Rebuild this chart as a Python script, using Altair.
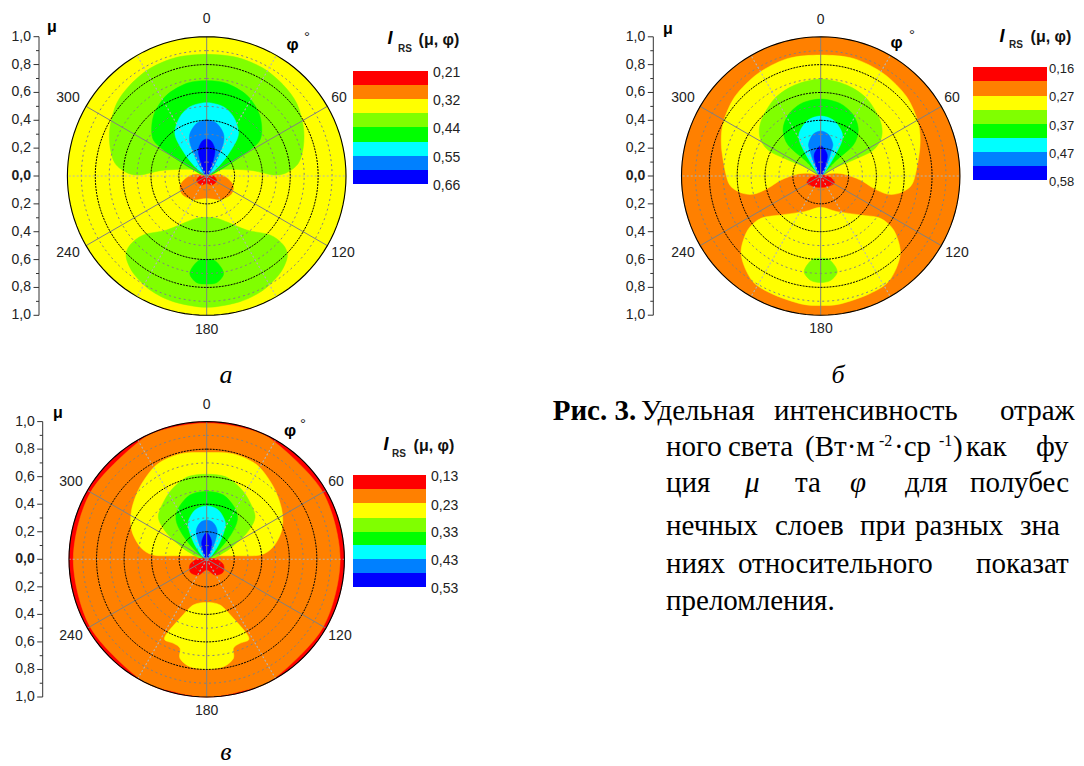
import math
import altair as alt
import pandas as pd

# Colour levels, from the lowest contour to the highest
RED, ORANGE, YELLOW, LIME, GREEN, CYAN, AZURE, BLUE = (
    "#ff0000", "#ff8000", "#ffff00", "#80ff00", "#00ff00", "#00ffff", "#0080ff", "#0000ff")
LEVEL_COLORS = [RED, ORANGE, YELLOW, LIME, GREEN, CYAN, AZURE, BLUE]

# Contours: half outlines (right half, mirrored about phi = 0/180), read as
# [dx, dy] offsets with 418 read units = mu 1.0
READ_UNITS = 418.0

a_lime = [[0,365],[90,356],[170,323],[230,273],[270,218],[290,148],[290,88],[275,38],[240,10],[200,3],[140,16],[80,20],[30,18],[0,0]]
a_green = [[0,286],[60,278],[120,243],[155,193],[165,148],[160,108],[130,78],[80,43],[40,18],[0,0]]
a_cyan = [[0,220],[50,208],[80,178],[95,138],[90,108],[60,58],[30,23],[0,0]]
a_azure = [[0,168],[30,158],[50,128],[50,98],[35,58],[15,18],[0,0]]
a_blue = [[0,111],[15,103],[25,78],[20,48],[10,18],[0,0]]
a_orange = [[0,0],[30,5],[55,-2],[75,-20],[80,-38],[70,-58],[40,-70],[0,-66]]
a_red = [[0,-2],[20,0],[30,-15],[15,-27],[0,-22]]
a_low_lime = [[0,-124],[40,-130],[120,-162],[190,-177],[230,-207],[242,-242],[220,-292],[170,-342],[100,-377],[0,-394]]
a_low_green = [[0,-250],[25,-254],[45,-277],[50,-297],[30,-320],[0,-324]]

b_yellow = [[0,363],[98,353],[188,308],[258,238],[293,158],[298,88],[284,3],[269,-32],[234,-52],[199,-54],[159,-37],[119,-12],[69,6],[34,8],[0,3]]
b_lime = [[0,291],[78,273],[138,233],[178,168],[183,118],[158,78],[98,48],[38,23],[0,0]]
b_green = [[0,231],[58,218],[98,183],[113,138],[98,93],[48,48],[13,13],[0,0]]
b_cyan = [[0,180],[38,168],[63,133],[63,103],[38,53],[13,13],[0,0]]
b_azure = [[0,135],[23,125],[36,98],[33,78],[13,18],[0,0]]
b_blue = [[0,91],[13,78],[20,58],[10,18],[0,0]]
b_red = [[0,3],[20,0],[34,-8],[41,-22],[20,-32],[0,-34]]
b_low_yellow = [[0,-94],[49,-107],[119,-117],[179,-127],[219,-162],[239,-222],[229,-272],[199,-322],[139,-357],[59,-384],[0,-389]]
b_low_lime = [[0,-247],[24,-250],[44,-272],[49,-292],[29,-314],[0,-320]]

c_orange = [[0,413],[107,399],[206,357],[353,203],[405,0],[354,-205],[208,-360],[107,-400],[0,-418]]
c_yellow = [[0,324],[81,320],[152,287],[202,221],[228,150],[228,89],[202,38],[162,13],[81,11],[0,11]]
c_lime = [[0,258],[61,249],[111,206],[142,150],[145,119],[121,79],[71,33],[20,3],[0,0]]
c_green = [[0,206],[51,195],[86,155],[93,119],[76,79],[41,33],[0,0]]
c_cyan = [[0,162],[35,150],[56,114],[51,79],[30,33],[0,0]]
c_azure = [[0,119],[20,111],[32,84],[20,38],[5,3],[0,0]]
c_blue = [[0,81],[12,64],[15,44],[5,8],[0,0]]
c_red = [[0,2],[30,0],[51,-17],[49,-40],[25,-48],[0,-32]]
c_low_yellow = [[0,-131],[41,-139],[81,-179],[121,-225],[127,-245],[101,-255],[81,-270],[81,-301],[51,-326],[0,-334]]

PANELS = [
    dict(cx=206.7, cy=176.0, R=139.3, axis_x=39.0, bg=YELLOW, layers=[
        (a_lime, LIME), (a_green, GREEN), (a_cyan, CYAN), (a_azure, AZURE), (a_blue, BLUE),
        (a_orange, ORANGE), (a_red, RED), (a_low_lime, LIME), (a_low_green, GREEN)]),
    dict(cx=820.7, cy=176.0, R=139.2, axis_x=653.3, bg=ORANGE, layers=[
        (b_yellow, YELLOW), (b_lime, LIME), (b_green, GREEN), (b_cyan, CYAN), (b_azure, AZURE),
        (b_blue, BLUE), (b_red, RED), (b_low_yellow, YELLOW), (b_low_lime, LIME)]),
    dict(cx=206.7, cy=559.3, R=137.7, axis_x=42.7, bg=RED, layers=[
        (c_orange, ORANGE), (c_yellow, YELLOW), (c_lime, LIME), (c_green, GREEN), (c_cyan, CYAN),
        (c_azure, AZURE), (c_blue, BLUE), (c_red, RED), (c_low_yellow, YELLOW)]),
]

mu_tick_labels = ["1,0", "0,8", "0,6", "0,4", "0,2", "0,0", "0,2", "0,4", "0,6", "0,8", "1,0"]

phi_labels = ["0", "60", "120", "180", "240", "300"]
phi_label_pos = [
    [[206.7, 19], [339, 98], [343, 253], [206.7, 330], [68, 253], [68, 98]],
    [[820.7, 20], [952, 98], [957, 253], [821, 329], [683, 253], [683, 98]],
    [[206.7, 405], [336, 482], [340, 636], [206.7, 711], [71, 636], [71, 482]],
]

legend_labels = [
    ["0,21", "0,32", "0,44", "0,55", "0,66"],
    ["0,16", "0,27", "0,37", "0,47", "0,58"],
    ["0,13", "0,23", "0,33", "0,43", "0,53"],
]
legend_edges = [
    [71, 85, 99, 113, 127, 142, 156, 170, 184],
    [67, 81, 96, 110, 124, 138, 152, 166, 180],
    [475, 489, 503, 518, 532, 545, 559, 573, 587],
]
legend_x = [[353, 428], [973, 1047], [353, 426]]
legend_text_x = [433, 1049, 431]
legend_text_size = [14, 13, 14]
legend_text_y = [
    [73, 101, 129, 158, 186],
    [69, 97, 126, 154, 182],
    [477, 506, 533, 561, 589],
]

CAPTION_SIZE = 29
caption_bold = [["Рис. 3.", 552.7, 420]]
caption_words = [
    ["Удельная", 641, 420], ["интенсивность", 774, 420], ["отраж", 1000, 420],
    ["ного", 666, 456], ["света", 728, 456], ["(Вт·м", 805, 456], ["·ср", 894, 456], [")", 953, 456],
    ["как", 966, 456], ["фу", 1036, 456],
    ["ция", 666, 492], ["та", 795, 492], ["для", 905, 492], ["полубес", 970, 492],
    ["нечных", 666, 535], ["слоев", 775, 535], ["при", 860, 535], ["разных", 915, 535], ["зна", 1020, 535],
    ["ниях", 666, 573], ["относительного", 738, 573], ["показат", 976, 573],
    ["преломления.", 666, 610],
]
caption_super = [["-2", 879, 446], ["-1", 939, 446]]
caption_italic = [["μ", 745, 492], ["φ", 850, 492]]
subfigure_labels = [["а", 226, 383], ["б", 838, 383], ["в", 226, 760]]

SCALE_X = alt.Scale(domain=[8, 1076], range=[0, 1068], nice=False, zero=False)
SCALE_Y = alt.Scale(domain=[8, 766], range=[0, 758], nice=False, zero=False)


def X(f="x"):
    return alt.X(f"{f}:Q", scale=SCALE_X, axis=None)


def Y(f="y"):
    return alt.Y(f"{f}:Q", scale=SCALE_Y, axis=None)


def polygon(half, panel, color):
    s = panel["R"] / READ_UNITS
    right = [(p[0], p[1]) for p in half]
    left = [(-p[0], p[1]) for p in reversed(half) if p[0] != 0]
    rows = [dict(i=i, x=panel["cx"] + d[0] * s, y=panel["cy"] - d[1] * s)
            for i, d in enumerate(right + left)]
    return alt.Chart(pd.DataFrame(rows)).mark_line(
        fill=color, stroke=color, strokeWidth=0.5, interpolate="cardinal-closed", tension=0.1
    ).encode(x=X(), y=Y(), order="i:Q")


def ring(panel, mu, **style):
    rows = [dict(i=d, x=panel["cx"] + mu * panel["R"] * math.sin(math.radians(d)),
                 y=panel["cy"] - mu * panel["R"] * math.cos(math.radians(d))) for d in range(0, 361, 3)]
    return alt.Chart(pd.DataFrame(rows)).mark_line(**style).encode(x=X(), y=Y(), order="i:Q")


def disc(panel, color):
    rows = [dict(i=d, x=panel["cx"] + panel["R"] * math.sin(math.radians(d)),
                 y=panel["cy"] - panel["R"] * math.cos(math.radians(d))) for d in range(0, 360, 3)]
    return alt.Chart(pd.DataFrame(rows)).mark_line(fill=color, stroke=color, strokeWidth=0.5).encode(
        x=X(), y=Y(), order="i:Q")


def spokes(panel, angles, **style):
    rows = []
    for a in angles:
        t = math.radians(a)
        rows.append(dict(x=panel["cx"], y=panel["cy"],
                         x2=panel["cx"] + panel["R"] * math.sin(t),
                         y2=panel["cy"] - panel["R"] * math.cos(t)))
    return alt.Chart(pd.DataFrame(rows)).mark_rule(**style).encode(
        x=X(), y=Y(), x2="x2:Q", y2="y2:Q")


def rules(rows, **style):
    return alt.Chart(pd.DataFrame(rows)).mark_rule(**style).encode(
        x=X(), y=Y(), x2="x2:Q", y2="y2:Q")


def text(rows, **style):
    df = pd.DataFrame(rows, columns=["t", "x", "y"])
    return alt.Chart(df).mark_text(**style).encode(x=X(), y=Y(), text="t:N")


layers = []
SANS = "Liberation Sans"
SERIF = "Liberation Serif"
LABEL_SIZE = 14

for n, p in enumerate(PANELS):
    layers.append(disc(p, p["bg"]))
    for half, col in p["layers"]:
        layers.append(polygon(half, p, col))
    for mu in [0.1, 0.3, 0.5, 0.7, 0.9]:
        layers.append(ring(p, mu, stroke="#808080", strokeWidth=1, strokeDash=[2, 3]))
    layers.append(spokes(p, [30, 90, 150, 210, 270, 330], stroke="#b4b4b4", strokeWidth=1.1, strokeDash=[2, 2]))
    layers.append(spokes(p, [0, 60, 120, 180, 240, 300], stroke="#808080", strokeWidth=1))
    for mu in [0.2, 0.4, 0.6, 0.8]:
        layers.append(ring(p, mu, stroke="#000000", strokeWidth=1, strokeDash=[2, 1]))
    layers.append(ring(p, 1.0, stroke="#000000", strokeWidth=1.1))

    # mu axis
    ax = p["axis_x"]
    tick_rows = [dict(x=ax, y=p["cy"] - p["R"], x2=ax, y2=p["cy"] + p["R"])]
    signed = [(i - 5) / 5.0 for i in range(11)]
    for v in signed:
        yy = p["cy"] + v * p["R"]
        tick_rows.append(dict(x=ax - 5.5, y=yy, x2=ax, y2=yy))
    for v in signed[:-1]:
        yy = p["cy"] + (v + 0.1) * p["R"]
        tick_rows.append(dict(x=ax - 3, y=yy, x2=ax, y2=yy))
    layers.append(rules(tick_rows, stroke="#333333", strokeWidth=1))
    lab_rows = [[t, ax - 8, p["cy"] + ((i - 5) / 5.0) * p["R"]] for i, t in enumerate(mu_tick_labels) if t != "0,0"]
    layers.append(text(lab_rows, font=SANS, fontSize=LABEL_SIZE, align="right", baseline="middle", color="#222222"))
    layers.append(text([["0,0", ax - 8, p["cy"]]], font=SANS, fontSize=LABEL_SIZE, fontWeight="bold",
                       align="right", baseline="middle", color="#222222"))

    # phi labels
    rows = [[t, q[0], q[1]] for t, q in zip(phi_labels, phi_label_pos[n])]
    layers.append(text(rows, font=SANS, fontSize=LABEL_SIZE, align="center", baseline="middle", color="#222222"))

    # legend swatches
    e = legend_edges[n]
    rect_df = pd.DataFrame([dict(x=legend_x[n][0], x2=legend_x[n][1], y=e[i], y2=e[i + 1], c=LEVEL_COLORS[i])
                            for i in range(8)])
    layers.append(alt.Chart(rect_df).mark_rect(strokeWidth=0).encode(
        x=X(), x2="x2:Q", y=Y(), y2="y2:Q", color=alt.Color("c:N", scale=None, legend=None)))
    rows = [[t, legend_text_x[n], yy] for t, yy in zip(legend_labels[n], legend_text_y[n])]
    layers.append(text(rows, font=SANS, fontSize=legend_text_size[n], align="left", baseline="middle", color="#222222"))

bold_mu = [["μ", 52, 27], ["μ", 668, 29], ["μ", 58, 413]]
layers.append(text(bold_mu, font=SANS, fontSize=16, fontWeight="bold", align="center", baseline="middle", color="#000000"))
bold_phi = [["φ", 292.7, 45], ["φ", 896.7, 43], ["φ", 290, 431]]
layers.append(text(bold_phi, font=SANS, fontSize=17, fontWeight="bold", align="center", baseline="middle", color="#000000"))
degree = [["°", 307, 37], ["°", 912, 35], ["°", 303, 424]]
layers.append(text(degree, font=SANS, fontSize=15, align="center", baseline="middle", color="#222222"))
i_rs = [["I", 390, 39], ["I", 1002, 37], ["I", 386, 445]]
layers.append(text(i_rs, font=SANS, fontSize=18, fontWeight="bold", fontStyle="italic", align="center", baseline="middle", color="#000000"))
rs = [["RS", 405, 49], ["RS", 1016, 45], ["RS", 399, 454]]
layers.append(text(rs, font=SANS, fontSize=10, fontWeight="bold", align="center", baseline="middle", color="#222222"))
paren = [["(μ, φ)", 439, 40], ["(μ, φ)", 1051, 37], ["(μ, φ)", 434, 446]]
layers.append(text(paren, font=SANS, fontSize=16, fontWeight="bold", align="center", baseline="middle", color="#111111"))

layers.append(text(caption_bold, font=SERIF, fontSize=CAPTION_SIZE, fontWeight="bold", align="left", baseline="alphabetic", color="#000000"))
layers.append(text(caption_words, font=SERIF, fontSize=CAPTION_SIZE, align="left", baseline="alphabetic", color="#000000"))
layers.append(text(caption_super, font=SERIF, fontSize=16, align="left", baseline="alphabetic", color="#000000"))
layers.append(text(caption_italic, font=SERIF, fontSize=CAPTION_SIZE, fontStyle="italic", align="left", baseline="alphabetic", color="#000000"))
layers.append(text(subfigure_labels, font=SERIF, fontSize=26, fontStyle="italic", align="center", baseline="alphabetic", color="#000000"))

chart = alt.layer(*layers).properties(
    width=1068, height=758, padding=0, autosize=alt.AutoSizeParams(type="none"), background="#ffffff"
).configure_view(stroke=None)

chart.save("out.html", embed_options={"renderer": "svg", "actions": False})
